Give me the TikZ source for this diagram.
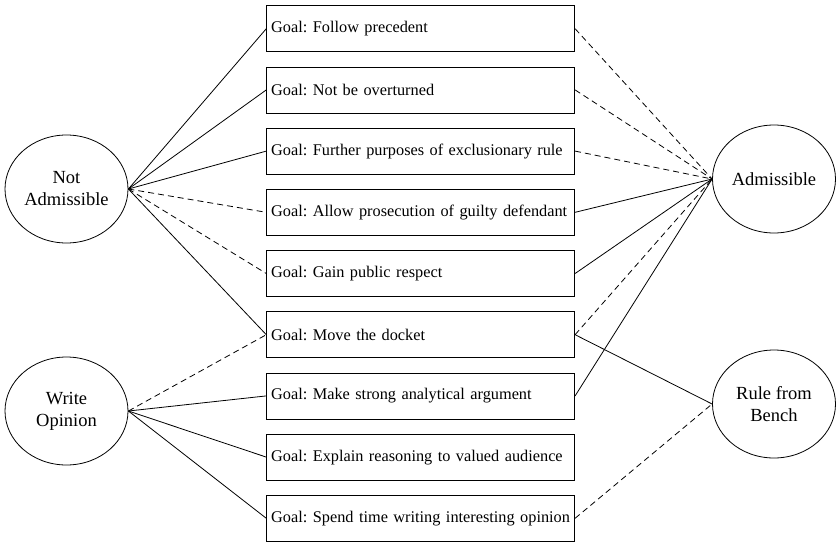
\documentclass[tikz,border=0pt]{standalone}
\usepackage{fontspec}
\setmainfont{Liberation Serif}
\usetikzlibrary{shapes.geometric}
\newcommand{\goalfont}{\fontsize{16.3}{19}\selectfont\frenchspacing\hyphenpenalty=10000\relax}

\begin{document}
\begin{tikzpicture}[x=1pt, y=-1pt, line width=0.8pt,
  choice/.style={draw, ellipse, minimum width=123pt, minimum height=108pt,
    inner sep=0pt, align=center, font=\fontsize{18.5}{22}\selectfont},
  goal/.style={draw, rectangle, minimum height=46pt, text width=299pt,
    inner xsep=4.5pt, align=left, font=\goalfont},
  neg/.style={dash pattern=on 6pt off 4pt}]
  \useasboundingbox (0,0) rectangle (836,542);
  % options on the left and right
  \node[choice] (notadm) at (66.5,189) {Not\\Admissible};
  \node[choice] (write) at (66.5,411) {Write\\Opinion};
  \node[choice] (adm) at (774,179) {Admissible};
  \node[choice] (bench) at (774,404) {Rule from\\Bench};
  % the goals
  \node[goal] (g1) at (420.7,28.7) {Goal: Follow precedent};
  \node[goal] (g2) at (420.7,89.9) {Goal: Not be overturned};
  \node[goal] (g3) at (420.7,151.1) {Goal: Further purposes of exclusionary rule};
  \node[goal] (g4) at (420.7,212.3) {Goal: Allow prosecution of guilty defendant};
  \node[goal] (g5) at (420.7,273.5) {Goal: Gain public respect};
  \node[goal] (g6) at (420.7,334.7) {Goal: Move the docket};
  \node[goal] (g7) at (420.7,395.9) {Goal: Make strong analytical argument};
  \node[goal] (g8) at (420.7,457.1) {Goal: Explain reasoning to valued audience};
  \node[goal] (g9) at (420.7,518.3) {Goal: Spend time writing interesting opinion};
  % not admissible
  \draw (notadm.east) -- (g1.west);
  \draw (notadm.east) -- (g2.west);
  \draw (notadm.east) -- (g3.west);
  \draw[neg] (notadm.east) -- (g4.west);
  \draw[neg] (notadm.east) -- (g5.west);
  \draw (notadm.east) -- (g6.west);
  % write opinion
  \draw[neg] (write.east) -- (g6.west);
  \draw (write.east) -- (g7.west);
  \draw (write.east) -- (g8.west);
  \draw (write.east) -- (g9.west);
  % admissible
  \draw[neg] (g1.east) -- (adm.west);
  \draw[neg] (g2.east) -- (adm.west);
  \draw[neg] (g3.east) -- (adm.west);
  \draw (g4.east) -- (adm.west);
  \draw (g5.east) -- (adm.west);
  \draw[neg] (g6.east) -- (adm.west);
  \draw (g7.east) -- (adm.west);
  % rule from bench
  \draw (g6.east) -- (bench.west);
  \draw[neg] (g9.east) -- (bench.west);
\end{tikzpicture}
\end{document}
